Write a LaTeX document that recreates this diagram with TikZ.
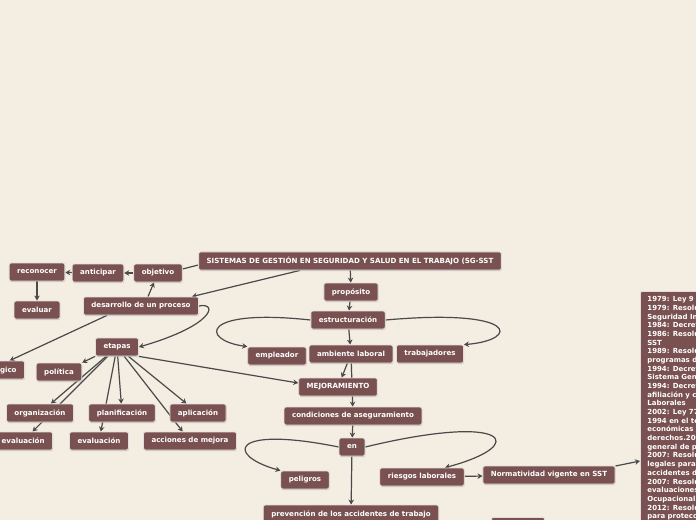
\documentclass[tikz,border=0pt]{standalone}
\usepackage{fontspec}
\setmainfont{DejaVu Sans}
\usetikzlibrary{arrows.meta,shadows}
\definecolor{fondocol}{HTML}{F3EDE2}
\definecolor{cajacol}{HTML}{7A5151}
\definecolor{lineacol}{HTML}{4A4A4A}
\pgfdeclarelayer{fondo}
\pgfsetlayers{fondo,main}

\begin{document}
\begin{tikzpicture}[x=1bp,y=-1bp,
	caja/.style={fill=cajacol, draw=white!80!cajacol, line width=.8bp, rounded corners=2bp, text=white, font=\fontsize{7.1}{8}\selectfont\bfseries, minimum height=18bp, inner xsep=8bp, drop shadow={shadow xshift=.5bp, shadow yshift=-1bp, opacity=.3}},
	flecha/.style={draw=lineacol, line width=1.2bp, -{Stealth[length=5bp,width=5.5bp]}},
	linea/.style={draw=lineacol, line width=1.2bp}]
	\useasboundingbox (0,0) rectangle (696,520);
	\clip (0,0) rectangle (696,520);
	
	% tronco central
	\node[caja] (sg) at (350,261) {SISTEMAS DE GESTIÓN EN SEGURIDAD Y SALUD EN EL TRABAJO (SG-SST};
	\node[caja] (proposito) at (351,292) {propósito};
	\node[caja] (estruct) at (348,320) {estructuración};
	\node[caja] (empleador) at (277,356) {empleador};
	\node[caja] (ambiente) at (351,354) {ambiente laboral};
	\node[caja] (trabaj) at (430,354) {trabajadores};
	\node[caja] (mejora) at (338,387) {MEJORAMIENTO};
	\node[caja] (condic) at (353,416) {condiciones de aseguramiento};
	\node[caja, minimum width=25bp] (en) at (352,447) {en};
	\node[caja] (peligros) at (305,480) {peligros};
	\node[caja] (riesgos) at (422,477) {riesgos laborales};
	\node[caja] (norma) at (549,475) {Normatividad vigente en SST};
	\node[caja] (prevencion) at (351,514) {prevención de los accidentes de trabajo};
	\node[caja, minimum width=53bp, minimum height=20bp, anchor=north] (otro) at (518,517) {};
	\node[caja, anchor=north west, align=left, inner xsep=7bp, inner ysep=5bp, font=\fontsize{7}{8.7}\selectfont\bfseries] (leyes) at (640,291) {%
		1979: Ley 9 Código Sanitario\\
		1979: Resolución 2400\\
		Seguridad Industrial\\
		1984: Decreto 614\\
		1986: Resolución 2013\\
		SST\\
		1989: Resolución 1016\\
		programas de\\
		1994: Decreto 1295\\
		Sistema General\\
		1994: Decreto 1772\\
		afiliación y cotización\\
		Laborales\\
		2002: Ley 776\\
		1994 en el tema\\
		económicas\\
		derechos.2003\\
		general de prevención\\
		2007: Resolución 1401\\
		legales para\\
		accidentes de\\
		2007: Resolución 2346\\
		evaluaciones\\
		Ocupacional\\
		2012: Resolución 1409\\
		para protección\\
		alturas};
	
	% rama izquierda
	\node[caja] (reconocer) at (37,272) {reconocer};
	\node[caja] (anticipar) at (98,273) {anticipar};
	\node[caja] (objetivo) at (158,273) {objetivo};
	\node[caja] (evaluar) at (37,310) {evaluar};
	\node[caja] (desarrollo) at (141,306) {desarrollo de un proceso};
	\node[caja] (etapas) at (117,347) {etapas};
	\node[caja, anchor=east] (logico) at (25,370) {lógico};
	\node[caja] (politica) at (59,372) {política};
	\node[caja] (organiz) at (40,413) {organización};
	\node[caja] (planif) at (122,413) {planificación};
	\node[caja] (aplic) at (198,413) {aplicación};
	\node[caja, anchor=east] (evalA) at (53,441) {evaluación};
	\node[caja] (evalB) at (99,441) {evaluación};
	\node[caja] (acciones) at (190,441) {acciones de mejora};
	
	\begin{pgfonlayer}{fondo}
	\fill[fondocol] (0,0) rectangle (696,520);
	
	\draw[linea] ([yshift=-4bp]sg.west) -- ([yshift=4bp]objetivo.east);
	\draw[flecha] ([xshift=-50bp]sg.south) -- ([xshift=-7bp]desarrollo.north east);
	\draw[flecha] (objetivo) -- (anticipar);
	\draw[flecha] (anticipar) -- (reconocer);
	\draw[flecha] (reconocer) -- (evaluar);
	\draw[flecha] ([xshift=7bp]desarrollo.north) -- ([xshift=-4bp]objetivo.south);
	\draw[flecha] (desarrollo.east) .. controls (218,302) and (215,325) .. (etapas.east);
	\draw[flecha] ([xshift=-34bp]desarrollo.south) -- ([xshift=5bp]logico.north);
	
	\draw[flecha] (etapas.south west) -- (politica.north east);
	\foreach \hijo in {organiz, evalA, planif, evalB, aplic, acciones}{
		\draw[flecha] (etapas) -- (\hijo);
	}
	\draw[flecha] (etapas.south east) -- ([yshift=4bp]mejora.west);
	
	\draw[flecha] (sg) -- (proposito);
	\draw[flecha] (proposito) -- (estruct);
	\draw[flecha] (estruct) -- (ambiente);
	\draw[flecha] (estruct.west) .. controls (200,308) and (200,340) .. (empleador.north west);
	\draw[flecha] (estruct.east) .. controls (520,308) and (520,340) .. (trabaj.north east);
	\draw[flecha] (ambiente) -- (mejora);
	\draw[flecha] (ambiente) -- (condic);
	\draw[flecha] (condic) -- (en);
	\draw[flecha] (en.west) .. controls (230,425) and (225,455) .. (peligros.north west);
	\draw[flecha] (en.east) .. controls (510,412) and (530,445) .. ([xshift=23bp]riesgos.north);
	\draw[flecha] (en) -- (prevencion);
	\draw[flecha] (riesgos) -- (norma);
	\draw[flecha] ([yshift=9bp]norma.east) -- ([yshift=-170bp]leyes.north west);
	\end{pgfonlayer}
	
\end{tikzpicture}
\end{document}
